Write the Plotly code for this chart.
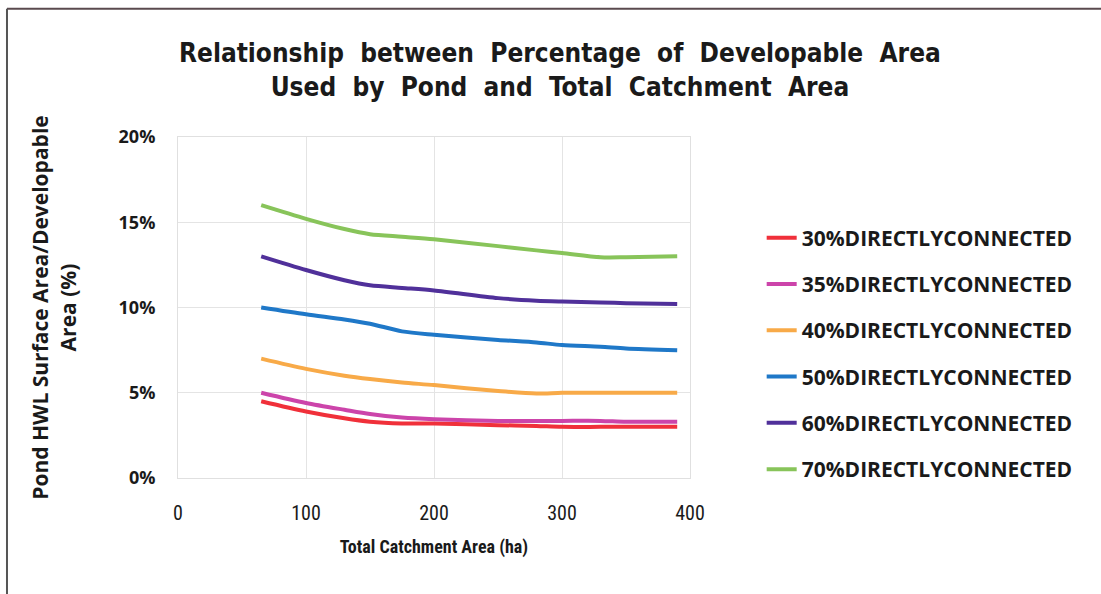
import plotly.graph_objects as go

x_ha = [65, 100, 130, 150, 175, 200, 250, 280, 300, 330, 350, 390]

series_names = [
    "30%DIRECTLYCONNECTED",
    "35%DIRECTLYCONNECTED",
    "40%DIRECTLYCONNECTED",
    "50%DIRECTLYCONNECTED",
    "60%DIRECTLYCONNECTED",
    "70%DIRECTLYCONNECTED",
]
pct_30 = [4.5, 3.9, 3.5, 3.3, 3.2, 3.2, 3.1, 3.05, 3.0, 3.0, 3.0, 3.0]
pct_35 = [5.0, 4.4, 4.0, 3.75, 3.55, 3.45, 3.35, 3.35, 3.35, 3.35, 3.3, 3.3]
pct_40 = [7.0, 6.4, 6.0, 5.8, 5.6, 5.45, 5.1, 4.95, 5.0, 5.0, 5.0, 5.0]
pct_50 = [10.0, 9.6, 9.3, 9.05, 8.6, 8.4, 8.1, 7.95, 7.8, 7.7, 7.6, 7.5]
pct_60 = [13.0, 12.2, 11.6, 11.3, 11.15, 11.0, 10.55, 10.4, 10.35, 10.3, 10.25, 10.2]
pct_70 = [16.0, 15.2, 14.6, 14.3, 14.15, 14.0, 13.6, 13.35, 13.2, 12.95, 12.95, 13.0]
colors = ["#f0303a", "#cc44aa", "#f8aa48", "#1f78c8", "#50309a", "#88c45a"]

y_ticks = [0, 5, 10, 15, 20]
y_tick_labels = ["0%", "5%", "10%", "15%", "20%"]
x_ticks = [0, 100, 200, 300, 400]

title_text = ("Relationship  between  Percentage  of  Developable  Area<br>"
              "Used  by  Pond  and  Total  Catchment  Area")

all_series = [pct_30, pct_35, pct_40, pct_50, pct_60, pct_70]

fig = go.Figure()
for i, (name, vals, col) in enumerate(zip(series_names, all_series, colors)):
    fig.add_trace(go.Scatter(
        x=x_ha, y=vals, name=name, mode="lines", legendgroup=f"g{i}",
        line=dict(color=col, width=4, shape="spline", smoothing=0.8),
    ))

narrow = "Liberation Sans Narrow, Roboto Condensed, Open Sans, sans-serif"
bold_font = "Open Sans, sans-serif"

fig.update_layout(
    width=1101, height=594,
    paper_bgcolor="white", plot_bgcolor="white",
    margin=dict(l=178, r=411, t=137, b=116),
    xaxis=dict(
        range=[0, 400], tickvals=x_ticks, showgrid=True, gridcolor="#e4e4e4", gridwidth=1,
        zeroline=False, showline=True, linecolor="#e0e0e0", mirror=True, ticks="",
        ticklabelstandoff=17,
        tickfont=dict(family=narrow, size=20, color="#1a1a1a"),
        title=dict(text="<b>Total Catchment Area (ha)</b>", standoff=16,
                   font=dict(family=narrow, size=18, color="#1a1a1a")),
    ),
    yaxis=dict(
        range=[0, 20], tickvals=y_ticks, ticktext=y_tick_labels, showgrid=True,
        gridcolor="#e4e4e4", gridwidth=1, zeroline=False, showline=True,
        linecolor="#e0e0e0", mirror=True, ticks="",
        ticklabelstandoff=18,
        tickfont=dict(family=bold_font, size=18, color="#1a1a1a", weight="bold"),
        title=dict(text="<b>Pond HWL Surface Area/Developable<br>Area (%)</b>", standoff=36,
                   font=dict(family=bold_font, size=21, color="#1a1a1a")),
    ),
    legend=dict(
        x=1.14, xanchor="left", y=0.764, yanchor="top",
        tracegroupgap=16, itemwidth=30,
        font=dict(family=bold_font, size=21, color="#1a1a1a", weight="bold"),
        bgcolor="rgba(0,0,0,0)",
    ),
    showlegend=True,
)

fig.add_annotation(
    text=title_text, xref="paper", yref="paper", x=0.746, y=1.196,
    xanchor="center", yanchor="middle", showarrow=False, align="center",
    font=dict(family="DejaVu Sans Condensed, DejaVu Sans", size=26, color="#1a1a1a", weight="bold"),
)

# outer frame (top and left edges)
fig.add_shape(type="line", xref="paper", yref="paper", x0=-0.334, x1=2.0, y0=1.376, y1=1.376,
              line=dict(color="#5a4a4e", width=2))
fig.add_shape(type="line", xref="paper", yref="paper", x0=-0.334, x1=-0.334, y0=1.376, y1=-0.5,
              line=dict(color="#555555", width=2))

fig.write_html("out.html")
